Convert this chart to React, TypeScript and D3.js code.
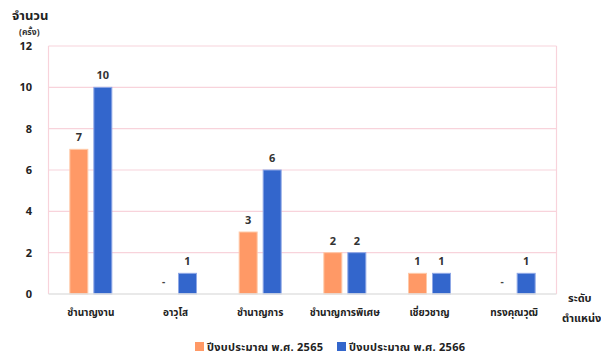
import React from "react";
import * as d3 from "d3";

const categories = ["ชำนาญงาน", "อาวุโส", "ชำนาญการ", "ชำนาญการพิเศษ", "เชี่ยวชาญ", "ทรงคุณวุฒิ"];
const series2565 = [7, 0, 3, 2, 1, 0];
const series2566 = [10, 1, 6, 2, 1, 1];
const seriesNames = ["ปีงบประมาณ พ.ศ. 2565", "ปีงบประมาณ พ.ศ. 2566"];
const yTicks = [0, 2, 4, 6, 8, 10, 12];

const colors = ["#FF9966", "#3366CC"];
const strokes = ["#FFC9A8", "#8FA8E6"];
const FONT = "'Noto Sans Thai', 'Noto Sans', 'DejaVu Sans', sans-serif";

export default function App() {
  const W = 601, H = 360;
  const left = 48.5, right = 556.5, top = 46, bottom = 294;
  const x = d3.scaleBand<string>().domain(categories).range([left, right]);
  const y = d3.scaleLinear().domain([0, 12]).range([bottom, top]);
  const barW = 18;
  const gap = 6;
  const all = [series2565, series2566];

  return (
    <svg width={W} height={H} style={{ position: "absolute", left: 0, top: 0 }} fontFamily={FONT}>
      <rect x={0} y={0} width={W} height={H} fill="#fff" />
      {yTicks.map((t) => (
        <g key={t}>
          {t > 0 && (
            <line x1={left} x2={right} y1={y(t)} y2={y(t)} stroke="#F8D3DB" strokeWidth={1.2} />
          )}
          <text x={32} y={y(t) + 4} textAnchor="end" fontSize={11} fontWeight="bold" fill="#222">
            {t}
          </text>
        </g>
      ))}
      <line x1={left} x2={left} y1={top} y2={bottom} stroke="#F8D3DB" strokeWidth={1.2} />
      <line x1={right} x2={right} y1={top} y2={bottom} stroke="#F8D3DB" strokeWidth={1.2} />
      {categories.map((c, i) => {
        const cx = (x(c) as number) + x.bandwidth() / 2;
        return (
          <g key={c}>
            {all.map((s, k) => {
              const bx = k === 0 ? cx - gap / 2 - barW : cx + gap / 2;
              const v = s[i];
              return (
                <g key={k}>
                  {v > 0 ? (
                    <>
                      <rect x={bx} y={y(v)} width={barW} height={bottom - y(v)} fill={colors[k]} stroke={strokes[k]} strokeWidth={1} />
                      <text x={bx + barW / 2} y={y(v) - 8} textAnchor="middle" fontSize={11} fontWeight="bold" fill="#333">
                        {v}
                      </text>
                    </>
                  ) : (
                    <text x={bx + barW / 2} y={bottom - 9} textAnchor="middle" fontSize={10} fontWeight="bold" fill="#444">
                      -
                    </text>
                  )}
                </g>
              );
            })}
            <text x={cx} y={316} textAnchor="middle" fontSize={10} fontWeight="bold" fill="#222">
              {c}
            </text>
          </g>
        );
      })}
      <line x1={left} x2={right} y1={bottom} y2={bottom} stroke="#E2E2E2" strokeWidth={1.5} />
      <text x={12} y={20} fontSize={13} fontWeight="bold" fill="#222">จำนวน</text>
      <text x={19} y={35} fontSize={8.5} fontWeight="bold" fill="#333">(ครั้ง)</text>
      <text x={568} y={302} fontSize={11} fontWeight="bold" fill="#222">ระดับ</text>
      <text x={562} y={322} fontSize={11} fontWeight="bold" fill="#222">ตำแหน่ง</text>
      {seriesNames.map((n, k) => {
        const lx = k === 0 ? 195 : 337;
        return (
          <g key={n}>
            <rect x={lx} y={342} width={9} height={9} fill={colors[k]} />
            <text x={lx + 12} y={351} fontSize={11} fontWeight="bold" fill="#222" textLength={116} lengthAdjust="spacing">{n}</text>
          </g>
        );
      })}
    </svg>
  );
}
